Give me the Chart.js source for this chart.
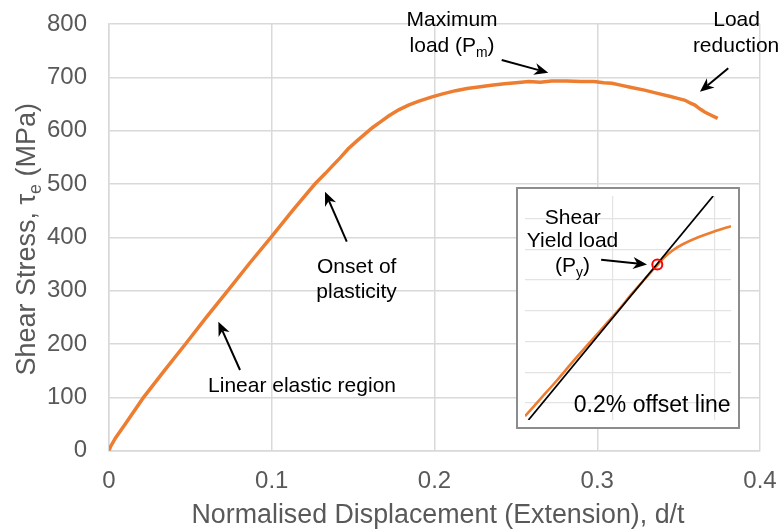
<!DOCTYPE html>
<html>
<head>
<meta charset="utf-8">
<script src="https://cdn.jsdelivr.net/npm/chart.js@4"></script>
<style>
  body { margin: 0; background: #fff; }
  #wrap { position: relative; width: 783px; height: 530px; }
  #inset { position: absolute; left: 516px; top: 187px; width: 220px; height: 238px; border: 2px solid #8c8c8c; background: #fff; }
  canvas { display: block; }
</style>
</head>
<body>
<div id="wrap">
  <canvas id="mainChart" width="783" height="530"></canvas>
  <div id="inset"><canvas id="insetChart" width="220" height="238"></canvas></div>
</div>
<script>
'use strict';
// main curve: normalised displacement vs shear stress (MPa)
let dispX = [0, 0.001, 0.004, 0.010, 0.021, 0.034, 0.047, 0.060, 0.073, 0.086, 0.0995,
  0.113, 0.1265, 0.133, 0.137, 0.142, 0.147, 0.152, 0.157, 0.162, 0.167, 0.172, 0.178, 0.184, 0.190, 0.198, 0.205,
  0.213, 0.220, 0.227, 0.235, 0.243, 0.250, 0.258, 0.265, 0.272, 0.281, 0.290, 0.298, 0.304, 0.309, 0.315, 0.321, 0.329, 0.337,
  0.345, 0.350, 0.354, 0.357, 0.360, 0.363, 0.366, 0.370, 0.374];
let stressY = [0, 8, 24, 50, 99, 150, 200, 251, 300, 350, 400,
  451, 500, 520, 533, 549, 566, 580, 593, 606, 617, 628, 639, 648, 655, 663, 669,
  675, 679, 682, 685, 688, 690, 692, 691, 693, 693, 692, 692, 690, 689, 685, 681, 676, 670,
  664, 660, 657, 652, 648, 641, 635, 629, 623];
let xTicks = [0, 0.1, 0.2, 0.3, 0.4];
let xTickLabels = ['0', '0.1', '0.2', '0.3', '0.4'];
let yTicks = [0, 100, 200, 300, 400, 500, 600, 700, 800];

// inset (zoom on the yield region)
let insetX = [0.12837, 0.13229, 0.13622, 0.14037, 0.14407, 0.14776, 0.15145, 0.15469, 0.15769, 0.15953, 0.16099,
  0.16253, 0.16484, 0.16738, 0.17108, 0.17500, 0.17916];
let insetY = [489.3, 503.8, 518.3, 534.4, 548.2, 562.0, 575.7, 588.7, 600.0, 606.9, 612.0,
  617.8, 624.2, 629.3, 634.8, 639.4, 643.8];
let offsetX = [0.12922, 0.17477];
let offsetY = [486.2, 668.3];
let yieldX = [0.16099];
let yieldY = [612.7];
let insetXTicks = [0.15, 0.175];
let insetYTicks = [500, 525, 550, 575, 600, 625, 650];

const FONT = '"Liberation Sans", Arial, sans-serif';
const ORANGE = '#ED7D31';

function toPoints(xs, ys) {
  return xs.map((x, i) => ({ x: x, y: ys[i] }));
}

// text with optional subscript pieces: parts = [[text, isSub], ...]
function richText(ctx, parts, x, y, size, color) {
  ctx.save();
  ctx.fillStyle = color || '#000';
  ctx.textBaseline = 'alphabetic';
  ctx.textAlign = 'left';
  let widths = parts.map(p => {
    ctx.font = (p[1] ? size * 0.66 : size) + 'px ' + FONT;
    return ctx.measureText(p[0]).width;
  });
  let total = widths.reduce((a, b) => a + b, 0);
  let cx = x - total / 2;
  parts.forEach((p, i) => {
    ctx.font = (p[1] ? size * 0.66 : size) + 'px ' + FONT;
    ctx.fillText(p[0], cx, p[1] ? y + size * 0.22 : y);
    cx += widths[i];
  });
  ctx.restore();
}

function arrow(ctx, x1, y1, x2, y2) {
  let a = Math.atan2(y2 - y1, x2 - x1);
  let len = 14, half = 6;
  let c = Math.cos(a), s = Math.sin(a);
  ctx.save();
  ctx.strokeStyle = '#000';
  ctx.fillStyle = '#000';
  ctx.lineWidth = 2;
  ctx.beginPath();
  ctx.moveTo(x1, y1);
  ctx.lineTo(x2 - len * 0.7 * c, y2 - len * 0.7 * s);
  ctx.stroke();
  ctx.beginPath();
  ctx.moveTo(x2, y2);
  ctx.lineTo(x2 - len * c + half * s, y2 - len * s - half * c);
  ctx.lineTo(x2 - len * 0.7 * c, y2 - len * 0.7 * s);
  ctx.lineTo(x2 - len * c - half * s, y2 - len * s + half * c);
  ctx.closePath();
  ctx.fill();
  ctx.restore();
}

// labels placed in data units of each chart
let mainNotes = [
  { parts: [['Maximum', false]], x: 0.2108, y: 796 },
  { parts: [['load (P', false], ['m', true], [')', false]], x: 0.2108, y: 747.5 },
  { parts: [['Load', false]], x: 0.3856, y: 796 },
  { parts: [['reduction', false]], x: 0.3853, y: 747.5 },
  { parts: [['Onset of', false]], x: 0.1522, y: 332.6 },
  { parts: [['plasticity', false]], x: 0.1521, y: 286.3 },
  { parts: [['Linear elastic region', false]], x: 0.1186, y: 110.6 }
];
let mainArrows = [
  [0.2413, 732.5, 0.2699, 708.7],
  [0.3805, 716.9, 0.3631, 673.0],
  [0.1461, 391.8, 0.1327, 485.6],
  [0.0805, 151.3, 0.0672, 241.8]
];
let insetNotes = [
  { parts: [['Shear', false]], x: 0.14014, y: 645.9 },
  { parts: [['Yield load', false]], x: 0.14010, y: 626.8 },
  { parts: [['(P', false], ['y', true], [')', false]], x: 0.14010, y: 606.3 }
];
let insetArrows = [[0.14714, 616.5, 0.15845, 612.7]];

let mainNotesPlugin = {
  id: 'mainNotes',
  afterDraw(chart) {
    let ctx = chart.ctx;
    let sx = chart.scales.x, sy = chart.scales.y;
    mainNotes.forEach(n => richText(ctx, n.parts, sx.getPixelForValue(n.x), sy.getPixelForValue(n.y), 21, '#000'));
    mainArrows.forEach(a => arrow(ctx, sx.getPixelForValue(a[0]), sy.getPixelForValue(a[1]),
      sx.getPixelForValue(a[2]), sy.getPixelForValue(a[3])));
    // axis titles
    let area = chart.chartArea;
    richText(ctx, [['Normalised Displacement (Extension), d/t', false]], (area.left + area.right) / 2 + 3.5, 523.3, 26.8, '#595959');
    ctx.save();
    ctx.translate(35, 239.3);
    ctx.rotate(-Math.PI / 2);
    richText(ctx, [['Shear Stress, \u03c4', false], ['e', true], [' (MPa)', false]], 0, 0, 27, '#595959');
    ctx.restore();
  }
};

let insetNotesPlugin = {
  id: 'insetNotes',
  afterDraw(chart) {
    let ctx = chart.ctx;
    let sx = chart.scales.x, sy = chart.scales.y;
    insetNotes.forEach(n => richText(ctx, n.parts, sx.getPixelForValue(n.x), sy.getPixelForValue(n.y), 21, '#000'));
    insetArrows.forEach(a => arrow(ctx, sx.getPixelForValue(a[0]), sy.getPixelForValue(a[1]),
      sx.getPixelForValue(a[2]), sy.getPixelForValue(a[3])));
    richText(ctx, [['0.2% offset line', false]], sx.getPixelForValue(0.15974), sy.getPixelForValue(493.1), 23, '#000');
  }
};

let gridGrey = '#d9d9d9';

new Chart(document.getElementById('mainChart'), {
  type: 'scatter',
  data: {
    datasets: [{
      data: toPoints(dispX, stressY),
      showLine: true,
      borderColor: ORANGE,
      borderWidth: 3.5,
      pointRadius: 0,
      tension: 0
    }]
  },
  options: {
    responsive: false,
    animation: false,
    layout: { padding: { left: 0, right: 23, top: 24, bottom: 0 } },
    plugins: { legend: { display: false }, tooltip: { enabled: false } },
    scales: {
      x: {
        type: 'linear',
        min: 0,
        max: 0.4,
        afterBuildTicks: s => { s.ticks = xTicks.map(v => ({ value: v })); },
        afterFit: s => { s.height = 530 - 450.7; },
        grid: { color: gridGrey, lineWidth: 1.5, tickLength: 13, tickColor: 'rgba(0,0,0,0)' },
        border: { color: gridGrey, width: 1.5 },
        ticks: {
          padding: 3,
          color: '#595959',
          font: { family: FONT, size: 24 },
          callback: (v, i) => xTickLabels[i]
        }
      },
      y: {
        type: 'linear',
        min: 0,
        max: 800,
        afterBuildTicks: s => { s.ticks = yTicks.map(v => ({ value: v })); },
        afterFit: s => { s.width = 109; },
        grid: { color: gridGrey, lineWidth: 1.5, tickLength: 19, tickColor: 'rgba(0,0,0,0)' },
        border: { color: gridGrey, width: 1.5 },
        ticks: {
          padding: 3,
          color: '#595959',
          font: { family: FONT, size: 24 }
        }
      }
    }
  },
  plugins: [mainNotesPlugin]
});

new Chart(document.getElementById('insetChart'), {
  type: 'scatter',
  data: {
    datasets: [
      {
        data: toPoints(yieldX, yieldY),
        pointRadius: 5,
        pointBorderWidth: 2,
        pointBorderColor: '#ff0000',
        pointBackgroundColor: 'rgba(0,0,0,0)'
      },
      {
        data: toPoints(offsetX, offsetY),
        showLine: true,
        borderColor: '#000',
        borderWidth: 1.75,
        pointRadius: 0
      },
      {
        data: toPoints(insetX, insetY),
        showLine: true,
        borderColor: ORANGE,
        borderWidth: 2.6,
        pointRadius: 0,
        tension: 0.3
      }
    ]
  },
  options: {
    responsive: false,
    animation: false,
    layout: { padding: 0 },
    plugins: { legend: { display: false }, tooltip: { enabled: false } },
    scales: {
      x: {
        type: 'linear',
        min: 0.12837,
        max: 0.17916,
        afterBuildTicks: s => { s.ticks = insetXTicks.map(v => ({ value: v })); },
        afterFit: s => { s.height = 0; },
        grid: { color: '#e3e3e3', lineWidth: 1.2, drawTicks: false },
        border: { display: false },
        ticks: { display: false }
      },
      y: {
        type: 'linear',
        min: 486.2,
        max: 668.3,
        afterBuildTicks: s => { s.ticks = insetYTicks.map(v => ({ value: v })); },
        afterFit: s => { s.width = 0; },
        grid: { color: '#e3e3e3', lineWidth: 1.2, drawTicks: false },
        border: { display: false },
        ticks: { display: false }
      }
    }
  },
  plugins: [insetNotesPlugin]
});
</script>
</body>
</html>
